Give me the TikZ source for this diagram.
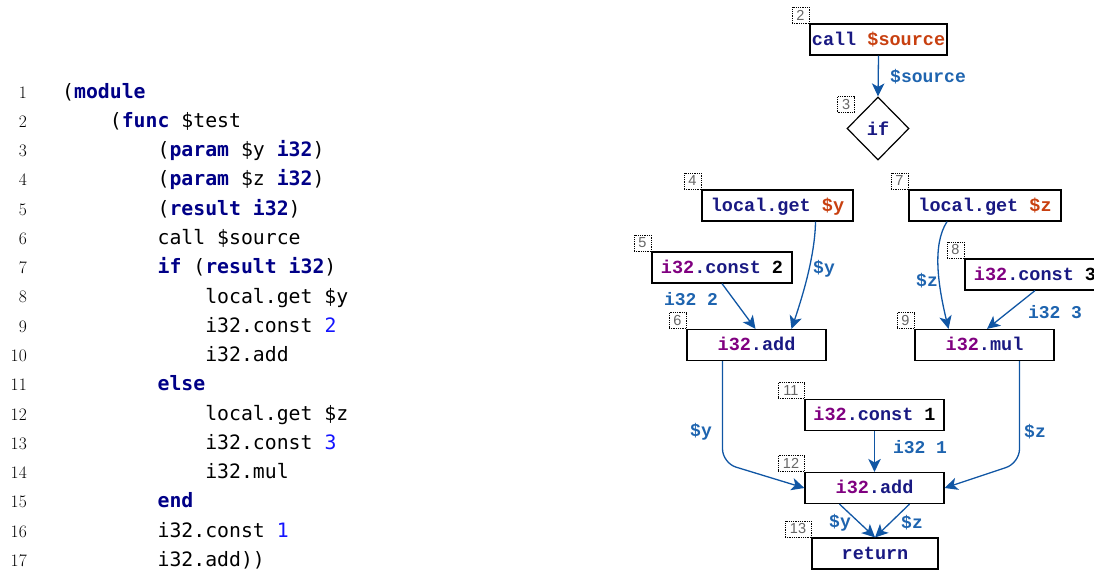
\documentclass[tikz,border=0pt]{standalone}
\usepackage{fontspec}
\usetikzlibrary{arrows.meta,shapes.geometric}
\newfontfamily\codefont{DejaVu Sans Mono}
\newfontfamily\gfont{Liberation Mono}
\newfontfamily\tagfont{Liberation Sans}
\definecolor{kwnavy}{RGB}{0,0,135}
\definecolor{numblue}{RGB}{20,20,255}
\definecolor{gnavy}{RGB}{25,25,130}
\definecolor{gorange}{RGB}{200,64,16}
\definecolor{gpurple}{RGB}{128,0,128}
\definecolor{edgeblue}{RGB}{16,86,164}
\definecolor{lblblue}{RGB}{30,100,175}
% code listing helpers
\newcommand\kw[1]{\textbf{\color{kwnavy}#1}}
\newcommand\nm[1]{{\color{numblue}#1}}
% graph node text helpers
\newcommand\gk[1]{{\color{gnavy}#1}}
\newcommand\gv[1]{{\color{gorange}#1}}
\newcommand\gi[1]{{\color{gpurple}#1}}
\newcommand\gn[1]{{\color{black}#1}}
\begin{document}
\begin{tikzpicture}[x=1pt,y=-1pt,
  codeline/.style={anchor=base west,inner sep=0pt,font=\codefont\fontsize{19.8}{24}\selectfont},
  lineno/.style={anchor=base east,inner sep=0pt,font=\fontsize{17.5}{20}\selectfont},
  gbox/.style={draw,line width=1.2pt,minimum height=31pt,inner sep=0pt,
    text height=12pt,text depth=1pt,font=\gfont\bfseries\fontsize{18.5}{20}\selectfont},
  gdiamond/.style={draw,line width=1.2pt,diamond,minimum width=62pt,minimum height=63pt,inner sep=0pt,
    font=\gfont\bfseries\fontsize{18.5}{20}\selectfont},
  tag/.style={draw,densely dotted,line width=0.8pt,anchor=south east,inner sep=0pt,
    minimum height=16pt,minimum width=17pt,text=black!60,font=\tagfont\fontsize{14.5}{15}\selectfont},
  wtag/.style={tag,minimum width=26pt},
  flow/.style={draw=edgeblue,line width=1.3pt,-{Stealth[length=13pt,width=12.5pt,inset=3.5pt]}},
  elabel/.style={inner sep=0pt,text=lblblue,font=\gfont\bfseries\fontsize{18}{20}\selectfont}
]
\useasboundingbox (0,0) rectangle (1094,570);

% ---- source listing ----
\foreach \n [count=\i from 0] in {1,...,17}
  \node[lineno] (ln\n) at (27,{98+29.28*\i}) {\n};

\node[codeline] (c1)  at (62,98)      {(\kw{module}};
\node[codeline] (c2)  at (109.7,127.3)  {(\kw{func} \$test};
\node[codeline] (c3)  at (157.4,156.6)  {(\kw{param} \$y \kw{i32})};
\node[codeline] (c4)  at (157.4,185.8)  {(\kw{param} \$z \kw{i32})};
\node[codeline] (c5)  at (157.4,215.1)  {(\kw{result} \kw{i32})};
\node[codeline] (c6)  at (157.4,244.4)  {call \$source};
\node[codeline] (c7)  at (157.4,273.7)  {\kw{if} (\kw{result} \kw{i32})};
\node[codeline] (c8)  at (205.1,303.0)  {local.get \$y};
\node[codeline] (c9)  at (205.1,332.2)  {i32.const \nm{2}};
\node[codeline] (c10) at (205.1,361.5)  {i32.add};
\node[codeline] (c11) at (157.4,390.8)  {\kw{else}};
\node[codeline] (c12) at (205.1,420.1)  {local.get \$z};
\node[codeline] (c13) at (205.1,449.4)  {i32.const \nm{3}};
\node[codeline] (c14) at (205.1,478.6)  {i32.mul};
\node[codeline] (c15) at (157.4,507.9)  {\kw{end}};
\node[codeline] (c16) at (157.4,537.2)  {i32.const \nm{1}};
\node[codeline] (c17) at (157.4,566.5)  {i32.add))};

% ---- data-flow graph ----
\node[gbox,minimum width=137pt] (n2) at (878.5,39.5) {\gk{call} \gv{\$source}};
\node[gdiamond] (n3) at (878,128.5) {\gk{if}};
\node[gbox,minimum width=151pt] (n4) at (777.5,205.5) {\gk{local.get} \gv{\$y}};
\node[gbox,minimum width=152pt] (n7) at (985,205.5) {\gk{local.get} \gv{\$z}};
\node[gbox,minimum width=140pt] (n5) at (722,267.5) {\gi{i32}\gk{.const} \gn{2}};
\node[gbox,minimum width=140pt] (n8) at (1035,274.5) {\gi{i32}\gk{.const} \gn{3}};
\node[gbox,minimum width=139pt] (n6) at (756.5,345) {\gi{i32}\gk{.add}};
\node[gbox,minimum width=139pt] (n9) at (984.5,345) {\gi{i32}\gk{.mul}};
\node[gbox,minimum width=139pt] (n11) at (874.5,415) {\gi{i32}\gk{.const} \gn{1}};
\node[gbox,minimum width=139pt] (n12) at (874.5,488) {\gi{i32}\gk{.add}};
\node[gbox,minimum width=126pt] (n13) at (875,553.5) {\gk{return}};

% index tags
\node[tag] (t2) at (n2.north west) {2};
\node[tag] (t3) at (855,113) {3};
\node[tag] (t4) at (n4.north west) {4};
\node[tag] (t7) at (n7.north west) {7};
\node[tag] (t5) at (n5.north west) {5};
\node[tag] (t8) at (n8.north west) {8};
\node[tag] (t6) at (n6.north west) {6};
\node[tag] (t9) at (n9.north west) {9};
\node[wtag] (t11) at (n11.north west) {11};
\node[wtag] (t12) at (n12.north west) {12};
\node[wtag] (t13) at (n13.north west) {13};

% bend points of the long connectors
\coordinate (k6) at (722.5,463);
\coordinate (k9) at (1019.5,463);

% connectors
\draw[flow] (n2.south) -- (n3.north);
\draw[flow] ([xshift=38pt]n4.south) .. controls (815,255) and (803,295) .. ([xshift=35pt]n6.north);
\draw[flow] (n5.south) -- ([xshift=-1pt]n6.north);
\draw[flow] ([xshift=-38pt]n7.south) .. controls (932,245) and (938,285) .. ([xshift=-36pt]n9.north);
\draw[flow] (n8.south) -- ([xshift=2.5pt]n9.north);
\draw[flow,rounded corners=14pt] ([xshift=-34pt]n6.south) -- (k6) -- (n12.west);
\draw[flow,rounded corners=14pt] ([xshift=35pt]n9.south) -- (k9) -- (n12.east);
\draw[flow] (n11.south) -- (n12.north);
\draw[flow] ([xshift=-35pt]n12.south) -- (n13.north);
\draw[flow] ([xshift=35pt]n12.south) -- (n13.north);

% connector labels
\node[elabel] (l23) at (928,77) {\$source};
\node[elabel] (l46) at (824,269) {\$y};
\node[elabel] (l56) at (691,299) {i32 2};
\node[elabel] (l79) at (927,281) {\$z};
\node[elabel] (l89) at (1055,312) {i32 3};
\node[elabel] (l612) at (701,432) {\$y};
\node[elabel] (l1112) at (920,447) {i32 1};
\node[elabel] (l912) at (1035,432) {\$z};
\node[elabel] (l13a) at (840,523) {\$y};
\node[elabel] (l13b) at (912,523) {\$z};
\end{tikzpicture}
\end{document}
